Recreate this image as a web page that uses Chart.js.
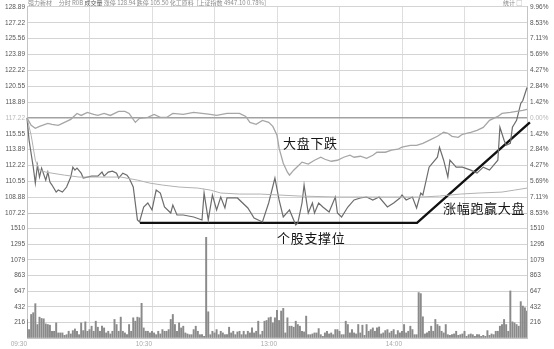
<!DOCTYPE html>
<html>
<head>
<meta charset="utf-8">
<script src="https://cdn.jsdelivr.net/npm/chart.js@4.4.1/dist/chart.umd.min.js"></script>
<style>
  html, body { margin: 0; padding: 0; background: #fff; }
  #wrap { position: relative; width: 554px; height: 349px; overflow: hidden; font-family: "Noto Sans CJK SC", sans-serif; }
  canvas { position: absolute; left: 0; top: 0; }
  .head { position: absolute; top: -1px; font-size: 6px; line-height: 7px; color: #8c8c8c; white-space: nowrap; }
  .note { position: absolute; font-size: 13px; line-height: 13px; color: #151515; letter-spacing: 0.7px; white-space: nowrap; }
</style>
</head>
<body>
<div id="wrap">
  <canvas id="volChart" width="554" height="349"></canvas>
  <canvas id="priceChart" width="554" height="349"></canvas>
  <div class="head" style="left:28px">强力新材&nbsp;&nbsp;&nbsp;&nbsp;&nbsp;分时 R0B <span style="color:#555">成交量</span> 涨停 128.94 跌停 105.50 化工原料&nbsp;&nbsp;[上证指数 4947.10 0.78%]</div>
  <div class="head" style="left:503px">统计 □</div>
  <div class="note" style="left:283px;top:136px">大盘下跌</div>
  <div class="note" style="left:277px;top:231px">个股支撑位</div>
  <div class="note" style="left:443px;top:201px">涨幅跑赢大盘</div>
</div>
<script>
// axis labels
const priceTicks = [128.89, 127.22, 125.56, 123.89, 122.22, 120.55, 118.89, 117.22, 115.55, 113.89, 112.22, 110.55, 108.88, 107.22];
const pctTicks = [9.96, 8.53, 7.11, 5.69, 4.27, 2.84, 1.42, 0, -1.42, -2.84, -4.27, -5.69, -7.11, -8.53];
const volTicks = [216, 432, 647, 863, 1079, 1295, 1510];
const timeLabels = { 0: '09:30', 60: '10:30', 120: '13:00', 180: '14:00' };
const basePrice = 117.22;
const volMax = 1726;

// stock price (minutes after open)
const stockMinutes = [0, 1, 3, 4, 5, 6, 7, 9, 10, 11, 12, 14, 15, 17, 19, 21, 22, 23, 24, 26, 27, 29, 31, 34, 36, 37, 39, 41, 43, 44, 46, 48, 49, 51, 53, 54, 56, 58, 60, 62, 64, 66, 69, 70, 72, 75, 80, 84, 85, 87, 89, 91, 93, 95, 96, 101, 106, 109, 113, 116, 119, 121, 123, 126, 129, 130, 132, 133, 135, 137, 138, 140, 142, 145, 148, 149, 151, 154, 157, 160, 163, 166, 169, 173, 176, 179, 180, 182, 185, 187, 189, 190, 193, 197, 198, 200, 202, 203, 206, 209, 213, 216, 219, 222, 226, 227, 229, 230, 232, 233, 235, 237, 238, 240];
const stockPrice = [117.22, 114.87, 112.04, 110.37, 112.25, 111.00, 111.94, 110.68, 111.52, 110.47, 110.16, 109.42, 109.63, 109.42, 109.95, 111.00, 112.04, 111.73, 111.94, 111.41, 110.89, 111.00, 111.10, 111.10, 111.52, 111.10, 111.52, 111.62, 111.41, 110.89, 111.41, 111.20, 110.89, 109.95, 106.49, 106.28, 107.85, 108.27, 107.54, 109.63, 109.32, 107.85, 107.22, 108.06, 107.01, 107.01, 106.80, 106.49, 109.32, 106.49, 109.11, 107.54, 108.90, 107.75, 108.80, 108.80, 107.75, 106.70, 106.28, 108.27, 110.89, 108.59, 106.80, 107.54, 105.97, 106.18, 108.27, 110.16, 107.22, 108.27, 107.22, 108.27, 107.85, 107.33, 108.90, 107.22, 106.80, 107.85, 108.59, 108.80, 108.90, 108.59, 108.90, 107.85, 108.27, 108.80, 109.11, 108.59, 108.90, 107.75, 109.32, 109.11, 112.04, 113.09, 114.13, 112.77, 111.00, 112.77, 112.04, 112.04, 111.73, 111.41, 112.04, 111.73, 112.77, 116.23, 114.87, 114.34, 114.55, 116.23, 116.96, 118.74, 119.05, 120.41];

// average price line
const avgMinutes = [0, 2, 4, 6, 9, 12, 18, 25, 35, 45, 53, 59, 65, 73, 82, 88, 93, 102, 112, 121, 131, 149, 169, 189, 198, 208, 217, 228, 234, 240];
const avgPrice = [117.22, 115.39, 112.77, 111.73, 111.52, 111.41, 111.20, 111.00, 111.00, 111.00, 110.68, 110.36, 110.16, 109.95, 109.84, 109.63, 109.32, 109.21, 109.21, 109.11, 109.00, 108.90, 108.90, 108.90, 109.00, 109.21, 109.32, 109.42, 109.63, 109.84];

// index (大盘) change in percent
const indexMinutes = [0, 2, 4, 6, 10, 12, 15, 17, 21, 24, 26, 29, 32, 34, 37, 40, 44, 47, 49, 52, 54, 58, 61, 64, 67, 70, 75, 80, 84, 88, 91, 96, 102, 105, 107, 110, 113, 116, 118, 120, 121, 123, 125, 126, 128, 130, 132, 135, 138, 141, 143, 146, 149, 152, 155, 157, 160, 163, 166, 168, 172, 175, 178, 180, 184, 187, 190, 193, 197, 200, 202, 204, 207, 209, 213, 216, 219, 222, 226, 228, 232, 235, 238, 240];
const indexPct = [0, -0.67, -0.94, -0.76, -0.49, -0.58, -0.67, -0.49, -0.13, 0.40, 0.22, 0.49, 0.31, 0.22, 0.40, 0.22, 0.58, 0.58, 0.40, -0.40, -0.04, 0.04, 0.31, 0.04, 0.04, 0.40, 0.31, 0.49, 0.40, 0.31, 0.22, 0.40, 0.40, 0.13, -0.40, -0.58, -0.22, -0.40, -0.76, -1.56, -2.72, -4.06, -4.87, -5.14, -4.69, -4.33, -3.97, -4.15, -3.80, -3.53, -3.71, -3.89, -3.80, -3.53, -3.35, -3.53, -3.44, -3.62, -3.35, -3.08, -3.08, -2.90, -2.81, -2.63, -2.46, -2.46, -2.28, -2.01, -1.65, -1.29, -1.38, -1.65, -1.74, -1.47, -1.29, -1.12, -0.85, -0.22, 0.13, 0.40, 0.49, 0.58, 0.67, 0.76];

// volume, one bar per minute 09:30 .. 15:00
const volume = [
  256, 116, 325, 349, 474, 186, 288, 270, 265, 195, 186, 177, 93, 93, 209, 70, 70, 70, 37, 46,
  93, 56, 102, 125, 93, 46, 209, 102, 223, 93, 116, 163, 93, 232, 149, 93, 163, 139, 70, 93,
  56, 93, 256, 186, 93, 288, 93, 70, 46, 186, 93, 279, 232, 288, 279, 479, 139, 93, 93, 70,
  93, 70, 46, 93, 56, 116, 93, 93, 116, 256, 325, 186, 93, 209, 139, 163, 70, 56, 46, 46,
  116, 163, 93, 46, 46, 23, 1390, 362, 46, 93, 70, 116, 46, 93, 70, 46, 46, 149, 70, 93,
  46, 84, 93, 46, 93, 46, 93, 70, 139, 70, 93, 232, 46, 93, 232, 242, 279, 288, 209, 279,
  381,
  242, 372, 409, 70, 279, 163, 163, 149, 232, 186, 163, 93, 84, 302, 46, 46, 56, 70, 70,
  130, 46, 23, 70, 93, 56, 70, 46, 116, 116, 93, 46, 46, 232, 186, 70, 116, 70, 56, 186,
  70, 177, 37, 186, 93, 116, 139, 93, 139, 153, 56, 70, 102, 116, 70, 93, 116, 46, 102, 70,
  93, 186, 70, 93, 163, 116, 46, 46, 627, 613, 293, 56, 70, 93, 163, 93, 256, 186, 163, 93,
  70, 186, 46, 37, 46, 56, 93, 37, 46, 56, 93, 23, 46, 56, 46, 23, 46, 46, 23, 37,
  23, 102, 37, 56, 46, 93, 93, 163, 186, 256, 186, 93, 650, 223, 209, 186, 163, 502, 441, 418,
  372
];

// thick black support / breakout line
const supportMinutes = [54.2, 187.2, 241.4];
const supportPrice = [106.18, 106.18, 116.75];

const gridGray = '#d4d4d4';
const vGridGray = '#dedede';
const labelGray = '#555';
const tickFont = { family: 'Liberation Sans', size: 6.5 };
const timeTicks = [0, 30, 60, 90, 120, 150, 180, 210, 240];

function pts(xs, ys) {
    return xs.map((x, i) => ({ x: x, y: ys[i] }));
}

function setTicks(values) {
    return function (scale) {
        scale.ticks = [...values].sort((a, b) => a - b).map(v => ({ value: v }));
    };
}

function fixWidth(w) {
    return function (scale) { scale.width = w; };
}

const pctMin = (priceTicks[priceTicks.length - 1] / basePrice - 1) * 100;
const pctMax = (priceTicks[0] / basePrice - 1) * 100;

// volume panel (drawn underneath)
new Chart(document.getElementById('volChart'), {
    type: 'bar',
    data: {
        datasets: [{
            data: volume.map((v, i) => ({ x: i, y: v })),
            backgroundColor: '#8a8a8a',
            barThickness: 1.3,
            yAxisID: 'y'
        }]
    },
    options: {
        responsive: false,
        animation: false,
        layout: { padding: { top: 213, bottom: 0, left: 0, right: 0 } },
        plugins: { legend: { display: false }, tooltip: { enabled: false } },
        scales: {
            x: {
                type: 'linear', min: 0, max: 240, offset: false,
                afterBuildTicks: setTicks(timeTicks),
                afterFit: function (s) { s.height = 11; },
                grid: { color: vGridGray, drawTicks: false, offset: false },
                border: { color: '#c4c4c4' },
                ticks: {
                    autoSkip: false, maxRotation: 0, minRotation: 0, align: 'end', padding: 2,
                    font: tickFont, color: '#aaa',
                    callback: v => timeLabels[v] || ''
                }
            },
            y: {
                position: 'left', min: 0, max: volMax,
                afterBuildTicks: setTicks([0, ...volTicks, volMax]),
                afterFit: fixWidth(27),
                grid: { color: gridGray, drawTicks: false },
                border: { color: '#c4c4c4' },
                ticks: { font: tickFont, color: labelGray, padding: 2, callback: v => volTicks.includes(v) ? String(v) : '' }
            },
            yR: {
                position: 'right', min: 0, max: volMax,
                afterBuildTicks: setTicks([0, ...volTicks, volMax]),
                afterFit: fixWidth(27),
                grid: { display: false, drawTicks: false },
                border: { color: '#c4c4c4' },
                ticks: { font: tickFont, color: labelGray, padding: 3, callback: v => volTicks.includes(v) ? String(v) : '' }
            }
        }
    }
});

// price panel (overlay); lines may dip below the 107.22 row like in the source
new Chart(document.getElementById('priceChart'), {
    type: 'line',
    data: {
        datasets: [
            { data: pts(indexMinutes, indexPct), yAxisID: 'yPct', borderColor: '#a6a6a6', borderWidth: 1.3, clip: false },
            { data: pts(avgMinutes, avgPrice), yAxisID: 'y', borderColor: '#b2b2b2', borderWidth: 1, clip: false },
            { data: pts(stockMinutes, stockPrice), yAxisID: 'y', borderColor: '#6c6c6c', borderWidth: 1.2, clip: false },
            { data: pts(supportMinutes, supportPrice), yAxisID: 'y', borderColor: '#111', borderWidth: 2.4, clip: false }
        ]
    },
    options: {
        responsive: false,
        animation: false,
        layout: { padding: { top: 6, bottom: 136, left: 0, right: 0 } },
        plugins: { legend: { display: false }, tooltip: { enabled: false } },
        elements: { point: { radius: 0 }, line: { tension: 0 } },
        scales: {
            x: {
                type: 'linear', min: 0, max: 240,
                afterBuildTicks: setTicks(timeTicks),
                afterFit: function (s) { s.height = 0; },
                grid: { color: vGridGray, drawTicks: false },
                border: { color: '#c4c4c4' },
                ticks: { display: false }
            },
            y: {
                position: 'left',
                min: priceTicks[priceTicks.length - 1], max: priceTicks[0],
                afterBuildTicks: setTicks(priceTicks),
                afterFit: fixWidth(27),
                grid: {
                    drawTicks: false,
                    color: c => c.tick && c.tick.value === basePrice ? '#a2a2a2' : gridGray,
                    lineWidth: c => c.tick && c.tick.value === basePrice ? 1.5 : 1
                },
                border: { color: '#c4c4c4' },
                ticks: {
                    font: tickFont, padding: 2,
                    color: c => c.tick && c.tick.value === basePrice ? '#b8b8b8' : labelGray,
                    callback: v => v.toFixed(2)
                }
            },
            yPct: {
                position: 'right', min: pctMin, max: pctMax,
                afterBuildTicks: setTicks(pctTicks),
                afterFit: fixWidth(27),
                grid: { display: false, drawTicks: false },
                border: { color: '#c4c4c4' },
                ticks: {
                    font: tickFont, padding: 3,
                    color: c => c.tick && c.tick.value === 0 ? '#b8b8b8' : labelGray,
                    callback: v => Math.abs(v).toFixed(2) + '%'
                }
            }
        }
    }
});
</script>
</body>
</html>
